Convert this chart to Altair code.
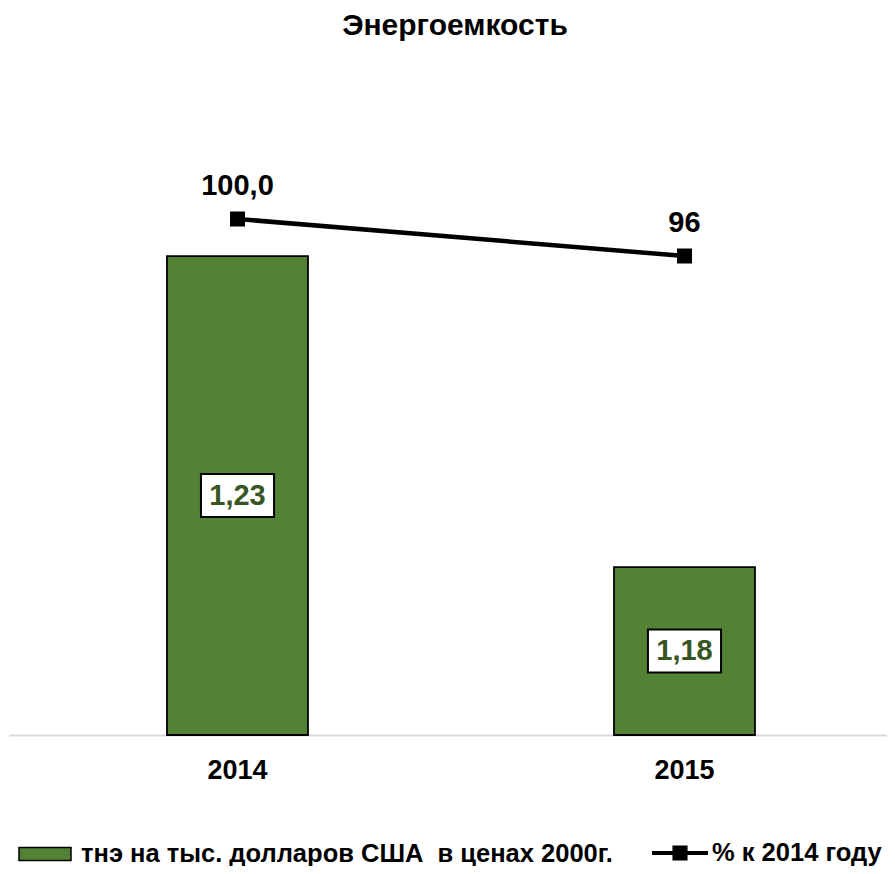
import altair as alt
import pandas as pd

# ---- data ----
years = ["2014", "2015"]
intensity = [1.23, 1.18]
intensity_labels = ["1,23", "1,18"]
percent = [100.0, 96.0]
percent_labels = ["100,0", "96"]
bar_series = "тнэ на тыс. долларов США\u00a0 в ценах 2000г."
line_series = "% к 2014 году"

# scale domains (chosen to match the reference layout)
Y_MIN, Y_MAX = 1.153, 1.253
P_MIN, P_MAX = 44.22, 111.46

df = pd.DataFrame({
    "year": years,
    "val": intensity,
    "vlab": intensity_labels,
    "pct": percent,
    "plab": percent_labels,
    "s1": [bar_series] * len(years),
    "s2": [line_series] * len(years),
})

FONT = "Liberation Sans"
GREEN = "#548235"
DARK = "#375623"
BOX = "M-1.7,-1H1.7V1H-1.7Z"
BAR_SYM = "M-2,-0.5H2V0.5H-2Z"
LINE_SYM = "M-2,-0.14H2V0.14H-2Z M-0.54,-0.54H0.54V0.54H-0.54Z"
LEG_FS = 25.5
LBL_FS = 29

x = alt.X(
    "year:N", title=None,
    scale=alt.Scale(paddingInner=0.6846, paddingOuter=0.3244, align=0.5448),
    axis=alt.Axis(labelAngle=0, labelFont=FONT, labelFontSize=27, labelFontWeight="bold",
                  labelColor="black", labelPadding=22, ticks=False,
                  domainColor="#D9D9D9", domainWidth=2),
)
yscale = alt.Scale(domain=[Y_MIN, Y_MAX], zero=False, nice=False)
pscale = alt.Scale(domain=[P_MIN, P_MAX], zero=False, nice=False)

base = alt.Chart(df)

bars = base.mark_bar(stroke="black", strokeWidth=1.8).encode(
    x=x,
    y=alt.Y("val:Q", scale=yscale, axis=None),
    y2=alt.datum(Y_MIN),
    fill=alt.Fill("s1:N", scale=alt.Scale(range=[GREEN]),
                  legend=alt.Legend(orient="none", legendX=22, legendY=727, title=None,
                                    symbolType=BAR_SYM, symbolSize=676,
                                    symbolStrokeColor="black", symbolStrokeWidth=1.5,
                                    labelFont=FONT, labelFontSize=LEG_FS, labelFontWeight="bold",
                                    labelColor="black", labelOffset=22, labelLimit=1000,
                                    padding=0)),
)

mid = base.transform_calculate(mid=f"({Y_MIN} + datum.val) / 2")

boxes = mid.mark_point(shape=BOX, size=1849, filled=True, fill="white", stroke="black",
                       strokeWidth=2, opacity=1).encode(
    x=x, y=alt.Y("mid:Q", scale=yscale, axis=None)
)
bar_text = mid.mark_text(font=FONT, fontSize=LBL_FS, fontWeight="bold", color=DARK,
                         baseline="middle").encode(
    x=x, y=alt.Y("mid:Q", scale=yscale, axis=None), text="vlab:N"
)

line = base.mark_line(color="black", strokeWidth=4.5).encode(
    x=x, y=alt.Y("pct:Q", scale=pscale, axis=None)
)
points = base.mark_point(shape="square", size=225, filled=True, opacity=1).encode(
    x=x,
    y=alt.Y("pct:Q", scale=pscale, axis=None),
    fill=alt.Fill("s2:N", scale=alt.Scale(range=["black"]),
                  legend=alt.Legend(orient="none", legendX=657, legendY=726, title=None,
                                    symbolType=LINE_SYM, symbolSize=784,
                                    symbolStrokeWidth=0,
                                    labelFont=FONT, labelFontSize=LEG_FS, labelFontWeight="bold",
                                    labelColor="black", labelOffset=18, labelLimit=1000,
                                    padding=0)),
)
line_text = base.mark_text(font=FONT, fontSize=LBL_FS, fontWeight="bold", color="black",
                           baseline="middle", dy=-33).encode(
    x=x, y=alt.Y("pct:Q", scale=pscale, axis=None), text="plab:N"
)

chart = alt.layer(bars, boxes, bar_text, line, points, line_text).resolve_scale(
    y="independent", fill="independent"
).properties(
    width=878,
    height=622,
    padding={"left": 1, "top": 105, "right": 0, "bottom": 131},
    autosize=alt.AutoSizeParams(type="none"),
    title=alt.TitleParams("Энергоемкость", font=FONT, fontSize=30, fontWeight="bold",
                          color="black", anchor="middle", offset=72, dx=7),
).configure_view(stroke=None)

chart.save("out.html", embed_options={"renderer": "svg", "actions": False})
